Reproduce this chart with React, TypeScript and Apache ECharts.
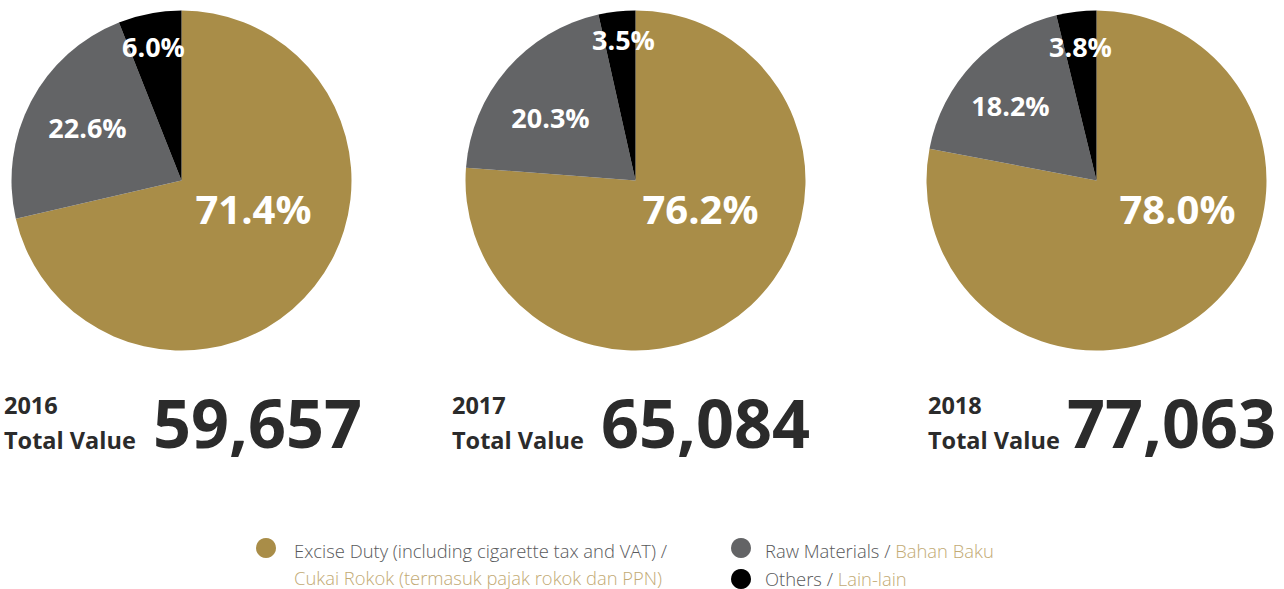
import React, { useEffect, useRef } from "react";
import * as echarts from "echarts";

const years = ["2016", "2017", "2018"];
const totals = ["59,657", "65,084", "77,063"];
const categories = [
  "Excise Duty / Cukai Rokok",
  "Raw Materials / Bahan Baku",
  "Others / Lain-lain",
];
const excise = [71.4, 76.2, 78.0];
const rawMaterials = [22.6, 20.3, 18.2];
const others = [6.0, 3.5, 3.8];

const legendMain = [
  "Excise Duty (including cigarette tax and VAT) /",
  "Raw Materials / ",
  "Others / ",
];
const legendLocal = [
  "Cukai Rokok (termasuk pajak rokok dan PPN)",
  "Bahan Baku",
  "Lain-lain",
];

const GOLD = "#A98D48";
const GRAY = "#636466";
const BLACK = "#000000";
const TEXT = "#2b2b2b";
const LEG_GRAY = "#58595b";
const LEG_GOLD = "#C2AA74";
const FONT = '"Open Sans", "Noto Sans", sans-serif';

// layout
const centers = [
  [181.5, 180.5],
  [635.5, 180.5],
  [1096.5, 180.5],
];
const radius = 170;
// label offsets relative to center (layout only)
const labelOffsets = [
  [[72, 28], [-94, -53], [-28, -134]],
  [[65, 28], [-85, -63], [-12, -141]],
  [[81, 28], [-86, -75], [-16, -134]],
];
const textLeft = [4, 452, 928];
const numLeft = [153, 601, 1067];

function measure(text: string, font: string): number {
  const c = document.createElement("canvas");
  const ctx = c.getContext("2d")!;
  ctx.font = font;
  return ctx.measureText(text).width;
}

export default function App() {
  const ref = useRef<HTMLDivElement>(null);
  useEffect(() => {
    const chart = echarts.init(ref.current!, null, { renderer: "svg" });
    const series: any[] = years.map((y, i) => ({
      type: "pie",
      name: y,
      center: centers[i],
      radius: radius,
      startAngle: 90,
      clockwise: true,
      silent: true,
      avoidLabelOverlap: false,
      labelLine: { show: false },
      itemStyle: { borderWidth: 0 },
      label: {
        show: true,
        position: "inside",
        color: "#ffffff",
        fontFamily: FONT,
        fontWeight: "bold",
        fontSize: 27,
        formatter: (p: any) => p.value.toFixed(1) + "%",
      },
      labelLayout: (p: any) => {
        const off = labelOffsets[i][p.dataIndex];
        return {
          x: centers[i][0] + off[0],
          y: centers[i][1] + off[1],
          align: "center",
          verticalAlign: "middle",
        };
      },
      data: [
        {
          name: categories[0],
          value: excise[i],
          itemStyle: { color: GOLD },
          label: { fontSize: 40 },
        },
        { name: categories[1], value: rawMaterials[i], itemStyle: { color: GRAY } },
        { name: categories[2], value: others[i], itemStyle: { color: BLACK } },
      ],
    }));

    const graphics: any[] = [];
    years.forEach((y, i) => {
      graphics.push({
        type: "text",
        x: textLeft[i],
        y: 405,
        style: { text: y, font: `bold 23.5px ${FONT}`, fill: TEXT, verticalAlign: "middle" },
      });
      graphics.push({
        type: "text",
        x: textLeft[i],
        y: 440,
        style: { text: "Total Value", font: `bold 23.5px ${FONT}`, fill: TEXT, verticalAlign: "middle" },
      });
      graphics.push({
        type: "text",
        x: numLeft[i],
        y: 422,
        style: { text: totals[i], font: `bold 66.5px ${FONT}`, fill: TEXT, verticalAlign: "middle" },
      });
    });

    // legend
    const legFont = `300 18.4px ${FONT}`;
    graphics.push(
      { type: "circle", shape: { cx: 266, cy: 548, r: 10 }, style: { fill: GOLD } },
      { type: "circle", shape: { cx: 741, cy: 548, r: 10 }, style: { fill: GRAY } },
      { type: "circle", shape: { cx: 741, cy: 579, r: 10 }, style: { fill: BLACK } },
      {
        type: "text",
        x: 294,
        y: 550,
        style: { text: legendMain[0], font: legFont, fill: LEG_GRAY, verticalAlign: "middle" },
      },
      {
        type: "text",
        x: 294,
        y: 577,
        style: { text: legendLocal[0], font: legFont, fill: LEG_GOLD, verticalAlign: "middle" },
      }
    );
    const rows = [
      [1, 550],
      [2, 578],
    ];
    rows.forEach(([k, yy]) => {
      const w = measure(legendMain[k], legFont);
      graphics.push(
        {
          type: "text",
          x: 765,
          y: yy,
          style: { text: legendMain[k], font: legFont, fill: LEG_GRAY, verticalAlign: "middle" },
        },
        {
          type: "text",
          x: 765 + w,
          y: yy,
          style: { text: legendLocal[k], font: legFont, fill: LEG_GOLD, verticalAlign: "middle" },
        }
      );
    });

    chart.setOption({
      animation: false,
      backgroundColor: "#ffffff",
      series,
      graphic: graphics,
    });
    return () => chart.dispose();
  }, []);
  return (
    <div
      ref={ref}
      style={{ position: "fixed", left: 0, top: 0, width: 1284, height: 589 }}
    />
  );
}
